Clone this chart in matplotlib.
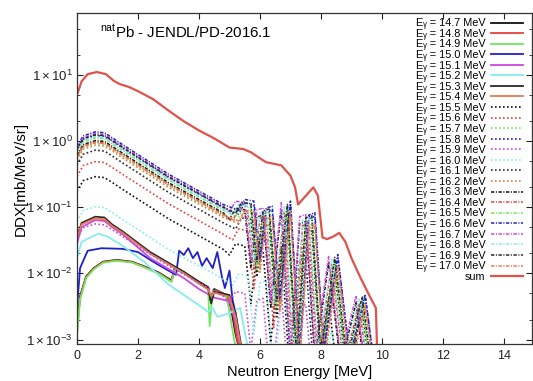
import matplotlib
matplotlib.use("Agg")
import matplotlib.pyplot as plt
from matplotlib.ticker import FixedLocator, FuncFormatter, LogLocator, NullFormatter

plt.rcParams['font.family'] = ['Liberation Sans', 'DejaVu Sans']
plt.rcParams['mathtext.fontset'] = 'custom'
plt.rcParams['mathtext.rm'] = 'Liberation Sans'
plt.rcParams['mathtext.it'] = 'Liberation Sans:italic'
plt.rcParams['mathtext.bf'] = 'Liberation Sans:bold'
plt.rcParams['mathtext.sf'] = 'Liberation Sans'

# ---------------- data ----------------
gamma_energies = ["14.7", "14.8", "14.9", "15.0", "15.1", "15.2", "15.3", "15.4",
                  "15.5", "15.6", "15.7", "15.8", "15.9", "16.0", "16.1", "16.2",
                  "16.3", "16.4", "16.5", "16.6", "16.7", "16.8", "16.9", "17.0"]

# solid group (14.7 - 15.4 MeV)
E_147 = [0.0, 0.1, 0.3, 0.55, 0.85, 1.3, 1.8, 2.2, 2.7, 3.1, 3.2, 3.5, 4.0, 4.3, 4.35, 4.5, 4.9, 5.05, 5.2, 5.4]
Y_147 = [0.0015, 0.0045, 0.009, 0.012, 0.015, 0.016, 0.015, 0.0128, 0.0102, 0.0078, 0.012, 0.0105, 0.0075, 0.0062, 0.004, 0.0058, 0.0047, 0.003, 0.0012, 0.0005]
E_148 = [0.0, 0.1, 0.3, 0.55, 0.85, 1.3, 1.8, 2.2, 2.7, 3.1, 3.2, 3.5, 4.0, 4.3, 4.4, 4.55, 4.95, 5.1, 5.25, 5.45]
Y_148 = [0.0013, 0.0043, 0.0088, 0.0118, 0.0148, 0.0158, 0.0148, 0.0126, 0.010, 0.0076, 0.0118, 0.0102, 0.0073, 0.006, 0.0042, 0.0056, 0.0045, 0.0028, 0.001, 0.0004]
E_149 = [0.0, 0.1, 0.3, 0.55, 0.85, 1.3, 1.8, 2.2, 2.7, 3.1, 3.2, 3.5, 4.0, 4.3, 4.35, 4.45, 4.9, 5.0, 5.15, 5.35]
Y_149 = [0.0011, 0.004, 0.0085, 0.0115, 0.0145, 0.0155, 0.0146, 0.0124, 0.0098, 0.0074, 0.0115, 0.010, 0.007, 0.0058, 0.0016, 0.0055, 0.0044, 0.0026, 0.001, 0.0004]
E_150 = [0.0, 0.1, 0.35, 0.8, 1.5, 2.0, 2.5, 3.0, 3.25, 3.35, 3.5, 3.65, 3.8, 3.95, 4.1, 4.25, 4.45, 4.6, 4.75, 4.85, 5.0, 5.1, 5.2, 5.3, 5.45]
Y_150 = [0.003, 0.012, 0.022, 0.024, 0.0235, 0.021, 0.015, 0.011, 0.0095, 0.022, 0.019, 0.024, 0.017, 0.021, 0.013, 0.017, 0.012, 0.021, 0.009, 0.006, 0.011, 0.004, 0.0025, 0.0012, 0.0004]
E_151 = [0.0, 0.15, 0.6, 0.9, 1.15, 1.5, 2.4, 3.5, 4.0, 4.5, 5.0, 5.2, 5.35, 5.5]
Y_151 = [0.028, 0.05, 0.064, 0.062, 0.05, 0.039, 0.017, 0.0085, 0.0058, 0.0043, 0.0038, 0.0018, 0.0008, 0.0004]
E_152 = [0.0, 0.15, 0.7, 1.0, 1.5, 2.2, 3.0, 4.0, 4.3, 4.45, 4.6, 5.0, 5.35, 5.55, 5.75]
Y_152 = [0.017, 0.03, 0.040, 0.036, 0.026, 0.015, 0.0068, 0.0033, 0.0026, 0.003, 0.0022, 0.0025, 0.003, 0.001, 0.0004]
E_153 = [0.0, 0.15, 0.6, 0.9, 1.15, 1.5, 2.4, 3.5, 4.0, 4.3, 4.4, 4.5, 5.0, 5.2, 5.35, 5.5]
Y_153 = [0.036, 0.058, 0.072, 0.07, 0.055, 0.043, 0.021, 0.0106, 0.0073, 0.006, 0.0035, 0.0053, 0.0047, 0.0025, 0.001, 0.0004]
E_154 = [0.0, 0.15, 0.6, 0.9, 1.15, 1.5, 2.4, 3.5, 4.0, 4.3, 4.4, 4.5, 5.0, 5.2, 5.35, 5.5]
Y_154 = [0.034, 0.055, 0.068, 0.066, 0.052, 0.041, 0.0198, 0.0101, 0.007, 0.0057, 0.0045, 0.0051, 0.0044, 0.0022, 0.0009, 0.0004]

# dotted / dash-dot groups: smooth part energies and tail energies
E_smooth = [0.0, 0.2, 0.6, 0.9, 1.15, 1.5, 3.0, 4.8]
tail_A = [5.0, 5.2, 5.5, 5.7, 5.9, 6.1, 6.35, 6.7, 7.0, 7.3, 7.5, 7.8, 8.25, 8.65, 9.15, 9.45]
tail_B = [5.1, 5.3, 5.6, 5.8, 6.0, 6.2, 6.45, 6.8, 7.1, 7.4, 7.6, 7.9, 8.35, 8.75, 9.25, 9.55]
tail_C = [5.2, 5.4, 5.7, 5.9, 6.1, 6.3, 6.55, 6.9, 7.2, 7.5, 7.7, 8.0, 8.45, 8.85, 9.35, 9.65]
tail_D = [5.3, 5.5, 5.8, 6.0, 6.2, 6.4, 6.65, 7.0, 7.3, 7.6, 7.8, 8.1, 8.55, 8.95, 9.45, 9.75]

Y_155 = [0.174, 0.252, 0.29, 0.281, 0.238, 0.186, 0.067, 0.023,
         0.019, 0.028, 0.026, 0.0035, 0.02, 0.022, 0.0009, 0.026, 0.0002, 0.016, 0.017, 0.0002, 0.0041, 0.0001, 0.001, 0.0001]
Y_156 = [0.294, 0.426, 0.49, 0.475, 0.402, 0.314, 0.113, 0.039,
         0.032, 0.047, 0.044, 0.0059, 0.034, 0.037, 0.0015, 0.044, 0.0003, 0.027, 0.029, 0.0003, 0.0069, 0.0002, 0.0017, 0.0002]
Y_157 = [0.552, 0.80, 0.92, 0.892, 0.754, 0.589, 0.212, 0.074,
         0.06, 0.087, 0.083, 0.011, 0.064, 0.069, 0.0028, 0.083, 0.0005, 0.051, 0.055, 0.0005, 0.0129, 0.0004, 0.0032, 0.0003]
Y_158 = [0.732, 1.06, 1.22, 1.18, 1.0, 0.781, 0.281, 0.098,
         0.079, 0.116, 0.11, 0.0146, 0.085, 0.092, 0.0037, 0.11, 0.0006, 0.067, 0.073, 0.0006, 0.017, 0.0005, 0.0043, 0.0004]
Y_159 = [0.034, 0.049, 0.056, 0.054, 0.046, 0.036, 0.013, 0.0045,
         0.0036, 0.0053, 0.005, 0.0007, 0.0039, 0.0042, 0.0002, 0.005, 0.0001, 0.0031, 0.0034, 0.0001, 0.0008, 0.0001, 0.0002, 0.0001]
Y_160 = [0.061, 0.089, 0.102, 0.099, 0.084, 0.065, 0.023, 0.0082,
         0.0066, 0.0097, 0.0092, 0.0012, 0.0071, 0.0077, 0.0003, 0.0092, 0.0001, 0.0056, 0.0061, 0.0001, 0.0014, 0.0001, 0.0004, 0.0001]
Y_161 = [0.438, 0.635, 0.73, 0.708, 0.599, 0.467, 0.168, 0.058,
         0.047, 0.069, 0.066, 0.0088, 0.051, 0.055, 0.0022, 0.066, 0.0004, 0.04, 0.044, 0.0004, 0.0102, 0.0003, 0.0026, 0.0002]
Y_162 = [0.522, 0.757, 0.87, 0.844, 0.713, 0.557, 0.2, 0.07,
         0.057, 0.083, 0.078, 0.0104, 0.061, 0.065, 0.0026, 0.078, 0.0004, 0.048, 0.052, 0.0004, 0.0122, 0.0003, 0.003, 0.0003]
Y_163 = [0.612, 0.887, 1.02, 0.989, 0.836, 0.653, 0.235, 0.082,
         0.066, 0.097, 0.092, 0.0122, 0.071, 0.077, 0.0031, 0.092, 0.0005, 0.056, 0.061, 0.0005, 0.0143, 0.0004, 0.0036, 0.0003]
Y_164 = [0.582, 0.844, 0.97, 0.941, 0.795, 0.621, 0.223, 0.078,
         0.063, 0.092, 0.087, 0.0116, 0.068, 0.073, 0.0029, 0.087, 0.0005, 0.053, 0.058, 0.0005, 0.0136, 0.0004, 0.0034, 0.0003]
Y_165 = [0.672, 0.974, 1.12, 1.09, 0.918, 0.717, 0.258, 0.09,
         0.073, 0.106, 0.101, 0.0134, 0.078, 0.084, 0.0034, 0.101, 0.0006, 0.062, 0.067, 0.0006, 0.0157, 0.0004, 0.0039, 0.0003]
Y_166 = [0.828, 1.2, 1.38, 1.34, 1.13, 0.883, 0.317, 0.11,
         0.09, 0.131, 0.124, 0.0166, 0.097, 0.104, 0.0041, 0.124, 0.0007, 0.076, 0.083, 0.0007, 0.0193, 0.00055, 0.0048, 0.0004]
Y_167 = [0.78, 1.13, 1.30, 1.26, 1.07, 0.832, 0.299, 0.104,
         0.085, 0.124, 0.117, 0.0156, 0.091, 0.098, 0.0039, 0.117, 0.00065, 0.072, 0.078, 0.00065, 0.018, 0.0005, 0.0046, 0.0004]
Y_168 = [0.702, 1.02, 1.17, 1.13, 0.959, 0.749, 0.269, 0.094,
         0.076, 0.111, 0.105, 0.014, 0.082, 0.088, 0.0035, 0.105, 0.0006, 0.064, 0.07, 0.0006, 0.0164, 0.0005, 0.0041, 0.0004]
Y_169 = [0.75, 1.09, 1.25, 1.21, 1.03, 0.80, 0.288, 0.1,
         0.081, 0.119, 0.113, 0.015, 0.088, 0.094, 0.0038, 0.113, 0.0006, 0.069, 0.075, 0.0006, 0.0175, 0.0005, 0.0044, 0.0004]
Y_170 = [0.57, 0.827, 0.95, 0.922, 0.779, 0.608, 0.219, 0.076,
         0.062, 0.09, 0.086, 0.0114, 0.067, 0.071, 0.0029, 0.086, 0.0005, 0.052, 0.057, 0.0005, 0.0133, 0.0004, 0.0033, 0.0003]

# sum
E_sum = [0.0, 0.15, 0.35, 0.65, 0.95, 1.2, 1.4, 1.7, 2.0, 2.5, 3.0, 3.5, 4.0, 4.5, 5.0, 5.45, 5.7,
         6.0, 6.2, 6.5, 6.7, 7.0, 7.15, 7.25, 7.45, 7.75, 7.9, 8.05, 8.2, 8.4, 8.6, 8.8, 9.0,
         9.3, 9.6, 9.8, 9.85]
Y_sum = [5.0, 8.0, 10.3, 11.1, 10.3, 8.2, 7.3, 6.6, 5.7, 4.3, 2.9, 2.0, 1.45, 1.1, 0.8, 0.76, 0.68,
         0.55, 0.48, 0.45, 0.43, 0.3, 0.2, 0.11, 0.14, 0.2, 0.15, 0.035, 0.033, 0.036, 0.041, 0.03, 0.017,
         0.0085, 0.0045, 0.003, 0.0005]

# ---------------- styles ----------------
palette = ['#111111', '#e8413a', '#72e65c', '#2020c8', '#cc48e0', '#86ecee', '#2a2a2a', '#e47a52']
dotted = (0, (1.0, 1.4))
dashdot = (0, (2.2, 1.0, 0.7, 1.0))

x_lists = [E_147, E_148, E_149, E_150, E_151, E_152, E_153, E_154,
           E_smooth + tail_A, E_smooth + tail_B, E_smooth + tail_C, E_smooth + tail_D,
           E_smooth + tail_A, E_smooth + tail_B, E_smooth + tail_C, E_smooth + tail_D,
           E_smooth + tail_A, E_smooth + tail_B, E_smooth + tail_C, E_smooth + tail_D,
           E_smooth + tail_A, E_smooth + tail_B, E_smooth + tail_C, E_smooth + tail_D]
y_lists = [Y_147, Y_148, Y_149, Y_150, Y_151, Y_152, Y_153, Y_154,
           Y_155, Y_156, Y_157, Y_158, Y_159, Y_160, Y_161, Y_162,
           Y_163, Y_164, Y_165, Y_166, Y_167, Y_168, Y_169, Y_170]

fig = plt.figure(figsize=(5.33, 3.81), dpi=100)
ax = fig.add_axes([77 / 533, 37 / 381, 455 / 533, 331 / 381])

for i, (xs, ys, eg) in enumerate(zip(x_lists, y_lists, gamma_energies)):
    group = i // 8
    col = palette[i % 8]
    if group == 0:
        ls, lw = '-', 1.3
    elif group == 1:
        ls, lw = dotted, 1.2
    else:
        ls, lw = dashdot, 1.1
    ax.plot(xs, ys, color=col, linestyle=ls, linewidth=lw,
            label='E\u1d67 = ' + eg + ' MeV')

ax.plot(E_sum, Y_sum, color='#e0524a', linewidth=1.6, label='sum')

ax.set_yscale('log')
ax.set_xlim(0, 14.92)
ax.set_ylim(8.55e-4, 86.7)

ax.xaxis.set_major_locator(FixedLocator([0, 2, 4, 6, 8, 10, 12, 14]))
ax.yaxis.set_major_locator(FixedLocator([1e-3, 1e-2, 1e-1, 1e0, 1e1]))
ax.yaxis.set_minor_locator(LogLocator(base=10, subs=(2.0, 5.0)))
ax.yaxis.set_minor_formatter(NullFormatter())


def yfmt(v, pos):
    import math
    k = int(round(math.log10(v)))
    return r'$1\times10^{%d}$' % k


ax.yaxis.set_major_formatter(FuncFormatter(yfmt))
ax.tick_params(which='both', direction='in', top=True, right=True, colors='#222222')
ax.tick_params(which='major', length=4, width=0.8, labelsize=9, pad=4)
ax.tick_params(axis='y', which='major', labelsize=9.5, pad=3)
ax.tick_params(which='minor', length=2, width=0.6)
for sp in ax.spines.values():
    sp.set_color('#333333')
    sp.set_linewidth(0.9)

ax.set_xlabel('Neutron Energy [MeV]', fontsize=10.5)
ax.xaxis.set_label_coords(0.49, -0.062)
ax.set_ylabel('DDX[mb/MeV/sr]', fontsize=11)
ax.yaxis.set_label_coords(-0.108, 0.5)

ax.text(0.051, 0.927, r'$^{\mathregular{nat}}$Pb - JENDL/PD-2016.1', transform=ax.transAxes,
        fontsize=10.8, ha='left', va='baseline')

leg = ax.legend(loc='upper right', bbox_to_anchor=(0.98, 0.984), frameon=False,
                markerfirst=False, fontsize=7.8, handlelength=2.9, handletextpad=0.55,
                labelspacing=-0.04, borderpad=0, borderaxespad=0)

fig.savefig('out.png', dpi=100)
